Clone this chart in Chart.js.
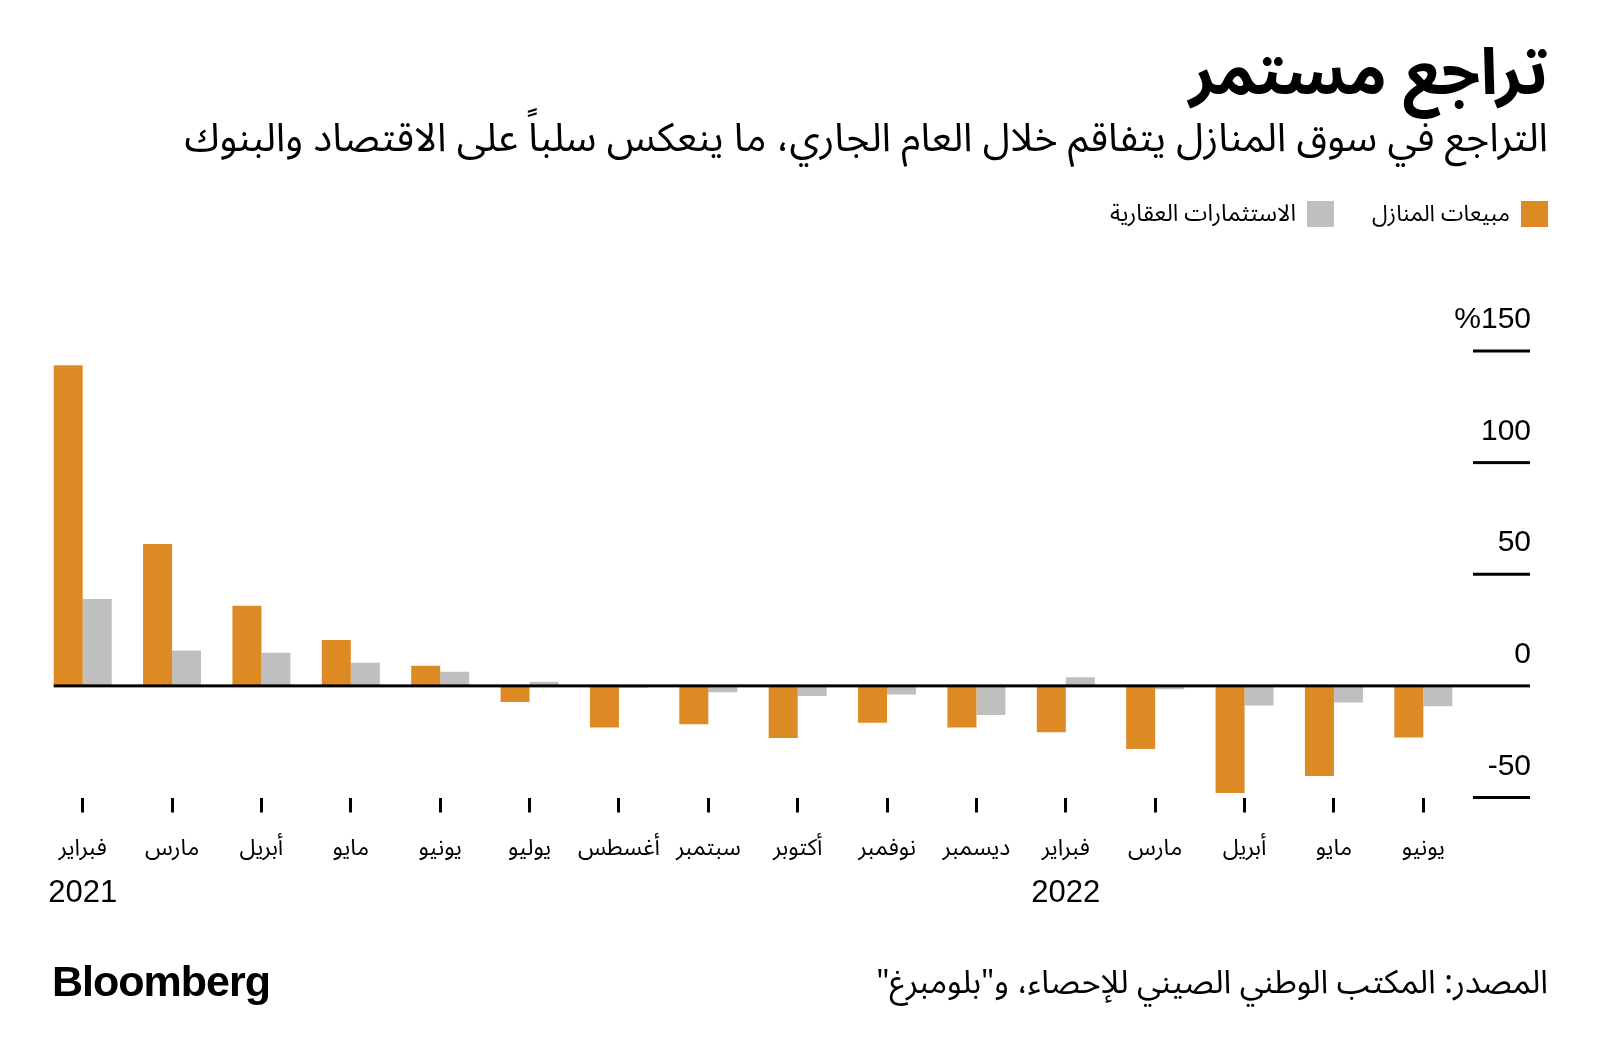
<!DOCTYPE html>
<html lang="ar">
<head>
<meta charset="utf-8">
<script src="https://cdn.jsdelivr.net/npm/chart.js@4.4.1/dist/chart.umd.min.js"></script>
<style>
html,body{margin:0;padding:0;background:#fff;}
#wrap{position:relative;width:1600px;height:1060px;overflow:hidden;background:#fff;}
#c{position:absolute;left:0;top:0;}
.t{position:absolute;white-space:nowrap;direction:rtl;color:#000;font-family:"Noto Sans Arabic","DejaVu Sans",sans-serif;}
.sq{position:absolute;width:27px;height:26px;}
#logo{position:absolute;left:52px;top:956px;line-height:50px;font-family:"Liberation Sans",Arial,sans-serif;font-weight:bold;font-size:43px;letter-spacing:-1px;color:#000;white-space:nowrap;}
</style>
</head>
<body>
<div id="wrap">
  <canvas id="c" width="1600" height="1060"></canvas>
  <div class="t fit" data-w="359" style="right:52px;top:39px;line-height:70px;font-size:56px;font-weight:bold;">تراجع مستمر</div>
  <div class="t fit" data-w="1364" style="right:52px;top:116px;line-height:44px;font-size:32px;">التراجع في سوق المنازل يتفاقم خلال العام الجاري، ما ينعكس سلباً على الاقتصاد والبنوك</div>
  <div class="sq" style="left:1521px;top:201px;background:#de8a24;"></div>
  <div class="t fit" data-w="138" style="right:90px;top:200px;line-height:28px;font-size:20px;">مبيعات المنازل</div>
  <div class="sq" style="left:1307px;top:201px;background:#bfbfbf;"></div>
  <div class="t fit" data-w="186" style="right:304px;top:200px;line-height:28px;font-size:20px;">الاستثمارات العقارية</div>
  <div class="t fit" data-w="672" style="right:52px;top:963px;line-height:40px;font-size:28px;">المصدر: المكتب الوطني الصيني للإحصاء، و"بلومبرغ"</div>
  <div id="logo">Bloomberg</div>
</div>
<script>
// ---- data ----
const categories = ['فبراير','مارس','أبريل','مايو','يونيو','يوليو','أغسطس','سبتمبر','أكتوبر','نوفمبر','ديسمبر','فبراير','مارس','أبريل','مايو','يونيو'];
const yearLabels = ['2021','','','','','','','','','','','2022','','','',''];
const houseSales = [143.6, 63.5, 35.9, 20.5, 9.0, -7.2, -18.7, -17.2, -23.3, -16.5, -18.7, -20.8, -28.3, -48.0, -40.4, -23.1];
const realEstateInvestment = [38.9, 15.8, 14.8, 10.4, 6.3, 1.9, -0.8, -2.8, -4.5, -3.9, -13.1, 3.9, -1.5, -8.8, -7.5, -9.1];
const seriesNames = ['مبيعات المنازل','الاستثمارات العقارية'];
const yTickValues = [150, 100, 50, 0, -50];
const yTickLabels = ['%150', '100', '50', '0', '-50'];

// ---- fit headline texts to their widths ----
document.querySelectorAll('.fit').forEach(el => {
  const target = +el.dataset.w;
  const fs = parseFloat(getComputedStyle(el).fontSize);
  const w = el.getBoundingClientRect().width;
  if (w > 0) el.style.fontSize = (fs * target / w).toFixed(2) + 'px';
});

const ORANGE = '#de8a24';
const GRAY = '#bfbfbf';
const ARABIC = '"Noto Sans Arabic","DejaVu Sans",sans-serif';
const LATIN = '"Liberation Sans",Arial,sans-serif';

const customAxis = {
  id: 'customAxis',
  afterDatasetsDraw(chart) {
    const {ctx, chartArea, scales: {x, y}} = chart;
    ctx.save();
    ctx.fillStyle = '#000';
    const tickLeft = chartArea.right + 5;
    const tickRight = chartArea.right + 62;
    yTickValues.forEach((v, i) => {
      const py = y.getPixelForValue(v);
      let x0 = tickLeft;
      if (v === 0) {
        const m = chart.getDatasetMeta(0).data[0];
        x0 = m.x - m.width / 2;
      }
      ctx.fillRect(x0, py - 1.5, tickRight - x0, 3);
      ctx.font = '30px ' + LATIN;
      ctx.textAlign = 'right';
      ctx.textBaseline = 'alphabetic';
      ctx.fillText(yTickLabels[i], tickRight + 1, py - 23);
    });
    ctx.font = '31px ' + LATIN;
    ctx.textAlign = 'center';
    yearLabels.forEach((lab, i) => {
      if (!lab) return;
      ctx.fillText(lab, x.getPixelForValue(i), 902);
    });
    ctx.restore();
  }
};

Chart.defaults.font.family = ARABIC;
Chart.defaults.color = '#000';

new Chart(document.getElementById('c'), {
  type: 'bar',
  data: {
    labels: categories,
    datasets: [
      {label: seriesNames[0], data: houseSales, backgroundColor: ORANGE, borderWidth: 0},
      {label: seriesNames[1], data: realEstateInvestment, backgroundColor: GRAY, borderWidth: 0}
    ]
  },
  options: {
    responsive: false,
    animation: false,
    layout: {padding: {left: 38, right: 132, top: 351, bottom: 0}},
    datasets: {bar: {categoryPercentage: 0.649, barPercentage: 1}},
    plugins: {legend: {display: false}, tooltip: {enabled: false}, title: {display: false}},
    scales: {
      x: {
        offset: true,
        grid: {display: true, drawOnChartArea: false, drawTicks: true, tickLength: 15, tickWidth: 3, tickColor: '#000', offset: false},
        border: {display: false},
        ticks: {padding: 25, font: {family: ARABIC, size: 23}, color: '#000', maxRotation: 0, autoSkip: false},
        afterFit(s) { s.height = 262.5; }
      },
      y: {display: false, min: -50, max: 150}
    }
  },
  plugins: [customAxis]
});
</script>
</body>
</html>
